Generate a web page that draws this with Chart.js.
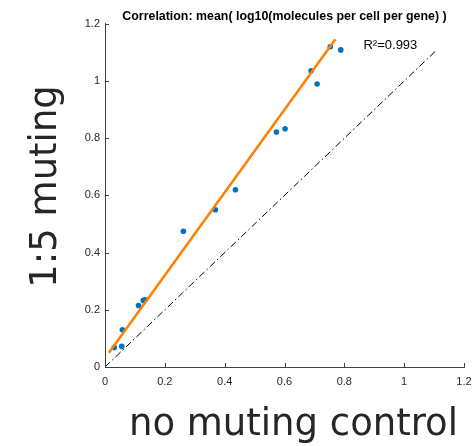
<!DOCTYPE html>
<html>
<head>
<meta charset="utf-8">
<script src="https://cdn.jsdelivr.net/npm/chart.js@4.4.1/dist/chart.umd.min.js"></script>
<style>
  html, body { margin: 0; padding: 0; background: #fff; }
  #wrap { width: 474px; height: 446px; position: relative; }
</style>
</head>
<body>
<div id="wrap"><canvas id="chart" width="474" height="446"></canvas></div>
<script>
// values
const controlX = [0.031, 0.056, 0.058, 0.112, 0.128, 0.134, 0.262, 0.369, 0.436, 0.573, 0.602, 0.689, 0.709, 0.753, 0.788];
const mutingY  = [0.068, 0.072, 0.130, 0.215, 0.233, 0.235, 0.475, 0.550, 0.620, 0.822, 0.833, 1.036, 0.990, 1.120, 1.109];

const fitX = [0.013, 0.770];
const fitY = [0.050, 1.146];

const diagX = [0, 1.11];
const diagY = [0, 1.11];

const xTicks = [0, 0.2, 0.4, 0.6, 0.8, 1, 1.2];
const yTicks = [0, 0.2, 0.4, 0.6, 0.8, 1, 1.2];

const titleText = 'Correlation: mean( log10(molecules per cell per gene) )';
const xLabel = 'no muting control';
const yLabel = '1:5 muting';
const r2Text = 'R\u00B2=0.993';
const r2Pos = { x: 0.864, y: 1.123 };

const toPoints = (xs, ys) => xs.map((x, i) => ({ x, y: ys[i] }));
const axisColor = '#404040';

// MATLAB style: ticks point inward, labels drawn outside
const insideTicks = {
  id: 'insideTicks',
  afterDraw(chart) {
    const { ctx, scales: { x, y } } = chart;
    ctx.save();
    ctx.strokeStyle = axisColor;
    ctx.lineWidth = 1;
    ctx.beginPath();
    x.ticks.forEach(t => {
      const px = Math.round(x.getPixelForValue(t.value)) + 0.5;
      ctx.moveTo(px, y.bottom);
      ctx.lineTo(px, y.bottom - 4);
    });
    y.ticks.forEach(t => {
      const py = Math.round(y.getPixelForValue(t.value)) + 0.5;
      ctx.moveTo(x.left, py);
      ctx.lineTo(x.left + 4, py);
    });
    ctx.stroke();

    // R^2 annotation
    ctx.fillStyle = '#000';
    ctx.font = '13px "Liberation Sans", Arial, sans-serif';
    ctx.textAlign = 'left';
    ctx.textBaseline = 'middle';
    ctx.fillText(r2Text, x.getPixelForValue(r2Pos.x), y.getPixelForValue(r2Pos.y));

    // axis labels
    ctx.fillStyle = '#262626';
    ctx.font = '37px "DejaVu Sans", sans-serif';
    ctx.textAlign = 'center';
    ctx.textBaseline = 'alphabetic';
    ctx.fillText(xLabel, (x.left + x.right) / 2 + 9, 435);
    ctx.translate(56, (y.top + y.bottom) / 2 - 9);
    ctx.rotate(-Math.PI / 2);
    ctx.fillText(yLabel, 0, 0);
    ctx.restore();
  }
};

const tickFont = { family: '"Liberation Sans", Arial, sans-serif', size: 11 };
const plainLabel = v => `${v}`;

new Chart(document.getElementById('chart'), {
  type: 'scatter',
  data: {
    datasets: [
      {
        type: 'line',
        data: toPoints(fitX, fitY),
        borderColor: '#FF7F00',
        borderWidth: 2.5,
        pointRadius: 0,
        fill: false,
        order: 0
      },
      {
        data: toPoints(controlX, mutingY),
        backgroundColor: '#0072BD',
        borderColor: '#0072BD',
        pointRadius: 2.8,
        pointBorderWidth: 0,
        order: 1
      },
      {
        type: 'line',
        data: toPoints(diagX, diagY),
        borderColor: '#000',
        borderWidth: 1,
        borderDash: [7, 3, 1.5, 3],
        pointRadius: 0,
        fill: false,
        order: 2
      }
    ]
  },
  options: {
    responsive: false,
    animation: false,
    layout: { padding: { left: 0, right: 10, top: 0, bottom: 0 } },
    plugins: {
      legend: { display: false },
      tooltip: { enabled: false },
      title: {
        display: true,
        text: titleText,
        fullSize: false,
        color: '#000',
        font: { family: '"Liberation Sans", Arial, sans-serif', size: 12.4, weight: 'bold' },
        padding: { top: 9, bottom: 0 }
      }
    },
    scales: {
      x: {
        type: 'linear',
        min: 0,
        max: 1.2,
        afterBuildTicks: s => { s.ticks = xTicks.map(v => ({ value: v })); },
        afterFit: s => { s.height = 79; s.paddingRight = 8; s.paddingLeft = 0; },
        grid: { display: false, drawTicks: false },
        border: { display: true, color: axisColor, width: 1 },
        ticks: { color: '#262626', font: tickFont, padding: 8, maxRotation: 0, callback: plainLabel }
      },
      y: {
        type: 'linear',
        min: 0,
        max: 1.2,
        afterBuildTicks: s => { s.ticks = yTicks.map(v => ({ value: v })); },
        afterFit: s => { s.width = 105; },
        grid: { display: false, drawTicks: false },
        border: { display: true, color: axisColor, width: 1 },
        ticks: { color: '#262626', font: tickFont, padding: 5, callback: plainLabel }
      }
    }
  },
  plugins: [insideTicks]
});
</script>
</body>
</html>
